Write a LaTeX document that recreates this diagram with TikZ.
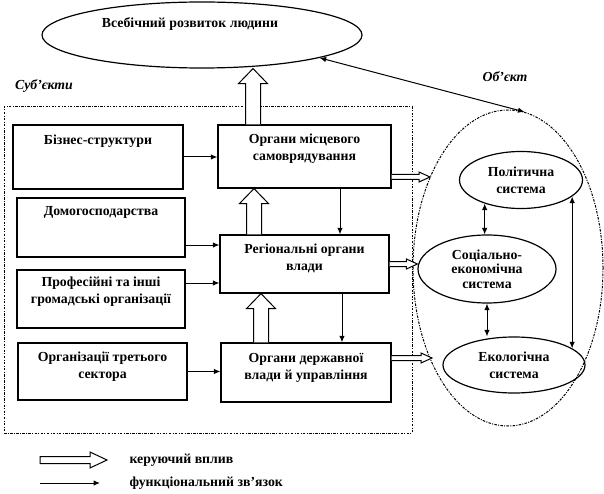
\documentclass[tikz,border=0pt]{standalone}
\usepackage{fontspec}
\setmainfont{Liberation Serif}
\usetikzlibrary{shapes.geometric,arrows.meta,calc}
\newcommand\hollowup[5]{%
  \filldraw[harrow] let \p1=(#1), \p2=(#2) in
   (\x1-#3,\y1) -- (\x1-#3,\y2-#5) -- (\x1-#4,\y2-#5) -- (\x1,\y2)
   -- (\x1+#4,\y2-#5) -- (\x1+#3,\y2-#5) -- (\x1+#3,\y1);}
\newcommand\hollowright[6][]{%
  \filldraw[harrow] let \p1=(#2), \p2=(#3) in
   (\x1,\y1+#4) -- (\x2-#6,\y1+#4) -- (\x2-#6,\y1+#5) -- (\x2,\y1)
   -- (\x2-#6,\y1-#5) -- (\x2-#6,\y1-#4) -- (\x1,\y1-#4) #1;}
\begin{document}
\begin{tikzpicture}[x=1pt,y=-1pt,
  txt/.style={font=\fontsize{13.8}{17}\selectfont\bfseries, align=center},
  lbl/.style={txt, anchor=north, inner sep=0pt},
  box/.style={draw, line width=1.2pt, inner sep=0pt},
  ell/.style={draw, ellipse, line width=1.2pt, inner sep=0pt, txt},
  dashdot/.style={line width=1pt, dash pattern=on 2.5pt off 1.3pt on 1pt off 1.3pt},
  harrow/.style={draw, fill=white, line width=1pt, line join=miter},
  fn/.style={line width=1pt, -{Latex[length=6.5pt,width=5.5pt]}},
  fnb/.style={line width=1pt, {Latex[length=6.5pt,width=5.5pt]}-{Latex[length=6.5pt,width=5.5pt]}},
  it/.style={font=\fontsize{13.8}{15}\selectfont\bfseries\itshape}]
\useasboundingbox (0,0) rectangle (604,494);

% top ellipse
\node[ell, minimum width=320pt, minimum height=66pt,
  label={[txt, anchor=center, xshift=-12pt, yshift=11pt]center:Всебічний розвиток людини}] (top) at (202,35) {};

\node[it] (subjl) at (44,86) {Суб'єкти};
\node[it] (objl) at (505,77) {Об'єкт};

% subject frame
\node[draw, dashdot, minimum width=408pt, minimum height=326pt, inner sep=0pt] (subj) at (208,270) {};

% left boxes
\node[box, minimum width=170pt, minimum height=64pt,
  label={[lbl, yshift=-10pt]north:Бізнес-структури}] (biz) at (98,157) {};
\node[box, minimum width=168pt, minimum height=59pt,
  label={[lbl, yshift=-9pt]north:Домогосподарства}] (dom) at (101,227.5) {};
\node[box, minimum width=168pt, minimum height=58pt,
  label={[lbl, yshift=-7pt]north:Професійні та інші\\громадські організації}] (prof) at (101,299) {};
\node[box, minimum width=169pt, minimum height=57pt,
  label={[lbl, yshift=-9pt]north:Організації третього\\сектора}] (org3) at (102.5,371.5) {};

% right boxes
\node[box, minimum width=173pt, minimum height=63pt,
  label={[lbl, yshift=-9pt]north:Органи місцевого\\самоврядування}] (loc) at (304.5,156.5) {};
\node[box, minimum width=169pt, minimum height=58pt,
  label={[lbl, yshift=-9pt]north:Регіональні органи\\влади}] (reg) at (304.5,264) {};
\node[box, minimum width=170pt, minimum height=59pt,
  label={[lbl, yshift=-11pt]north:Органи державної\\влади й управління}] (st) at (306,372.5) {};

% object ellipse
\node[draw, dashdot, ellipse, minimum width=190pt, minimum height=316pt, inner sep=0pt] (obj) at (508,268) {};
\node[ell, minimum width=123pt, minimum height=57pt] (pol) at (521,180) {Політична\\система};
\node[ell, minimum width=138pt, minimum height=68pt, font=\fontsize{13.8}{14.5}\selectfont\bfseries] (soc) at (487,269) {Соціально-\\економічна\\система};
\node[ell, minimum width=142pt, minimum height=56pt] (eco) at (514,365) {Екологічна\\система};

% functional links (subjects)
\draw[fn] (biz.east) -- (biz.east -| loc.west);
\coordinate (d1) at ([yshift=-17.5pt]dom.east);
\draw[fn] (d1) -- (d1 -| reg.west);
\coordinate (p1) at ([yshift=16pt]prof.east);
\draw[fn] (p1) -- (p1 -| reg.west);
\draw[fn] (org3.east) -- (org3.east -| st.west);
\coordinate (v1) at ([xshift=35.5pt]loc.south);
\draw[fn] (v1) -- (v1 |- reg.north);
\coordinate (v2) at ([xshift=37.5pt]reg.south);
\draw[fn] (v2) -- (v2 |- st.north);

% control (hollow) arrows up
\coordinate (u1) at ([xshift=-51.5pt]loc.north);
\hollowup{u1}{u1 |- top.south}{7.5pt}{14.5pt}{15pt}
\coordinate (u2) at ([xshift=-50.5pt]reg.north);
\hollowup{u2}{u2 |- loc.south}{7.5pt}{14.5pt}{15pt}
\coordinate (u3) at ([xshift=-45pt]st.north);
\hollowup{u3}{u3 |- reg.south}{7.5pt}{14.5pt}{15pt}

% control arrows right
\coordinate (r1) at ([yshift=-20.5pt]loc.east);
\coordinate (r1e) at (430,177);
\hollowright{r1}{r1e}{2.5pt}{5pt}{11pt}
\hollowright{reg.east}{reg.east -| soc.west}{2.5pt}{5pt}{11pt}
\coordinate (r3) at ([yshift=14.5pt]st.east);
\coordinate (r3e) at (432,358);
\hollowright{r3}{r3e}{2.5pt}{5pt}{11pt}

% object links
\draw[fnb] (top.-11) -- (obj.84);
\draw[fnb] (pol.-147) -- (pol.-147 |- soc.north);
\draw[fnb] (soc.south) -- (soc.south |- eco.north);
\draw[fnb] (pol.-18 -| eco.16) -- (eco.16);

% legend
\coordinate (lg1) at (40,460);
\coordinate (lg2) at (107,460);
\hollowright[-- cycle]{lg1}{lg2}{3.5pt}{8pt}{17pt}
\node[txt, anchor=west] (lgt1) at (126,460) {керуючий вплив};
\coordinate (lf1) at (40,483);
\coordinate (lf2) at (100,483);
\draw[fn] (lf1) -- (lf2);
\node[txt, anchor=west] (lgt2) at (126,483) {функціональний зв'язок};
\end{tikzpicture}
\end{document}
